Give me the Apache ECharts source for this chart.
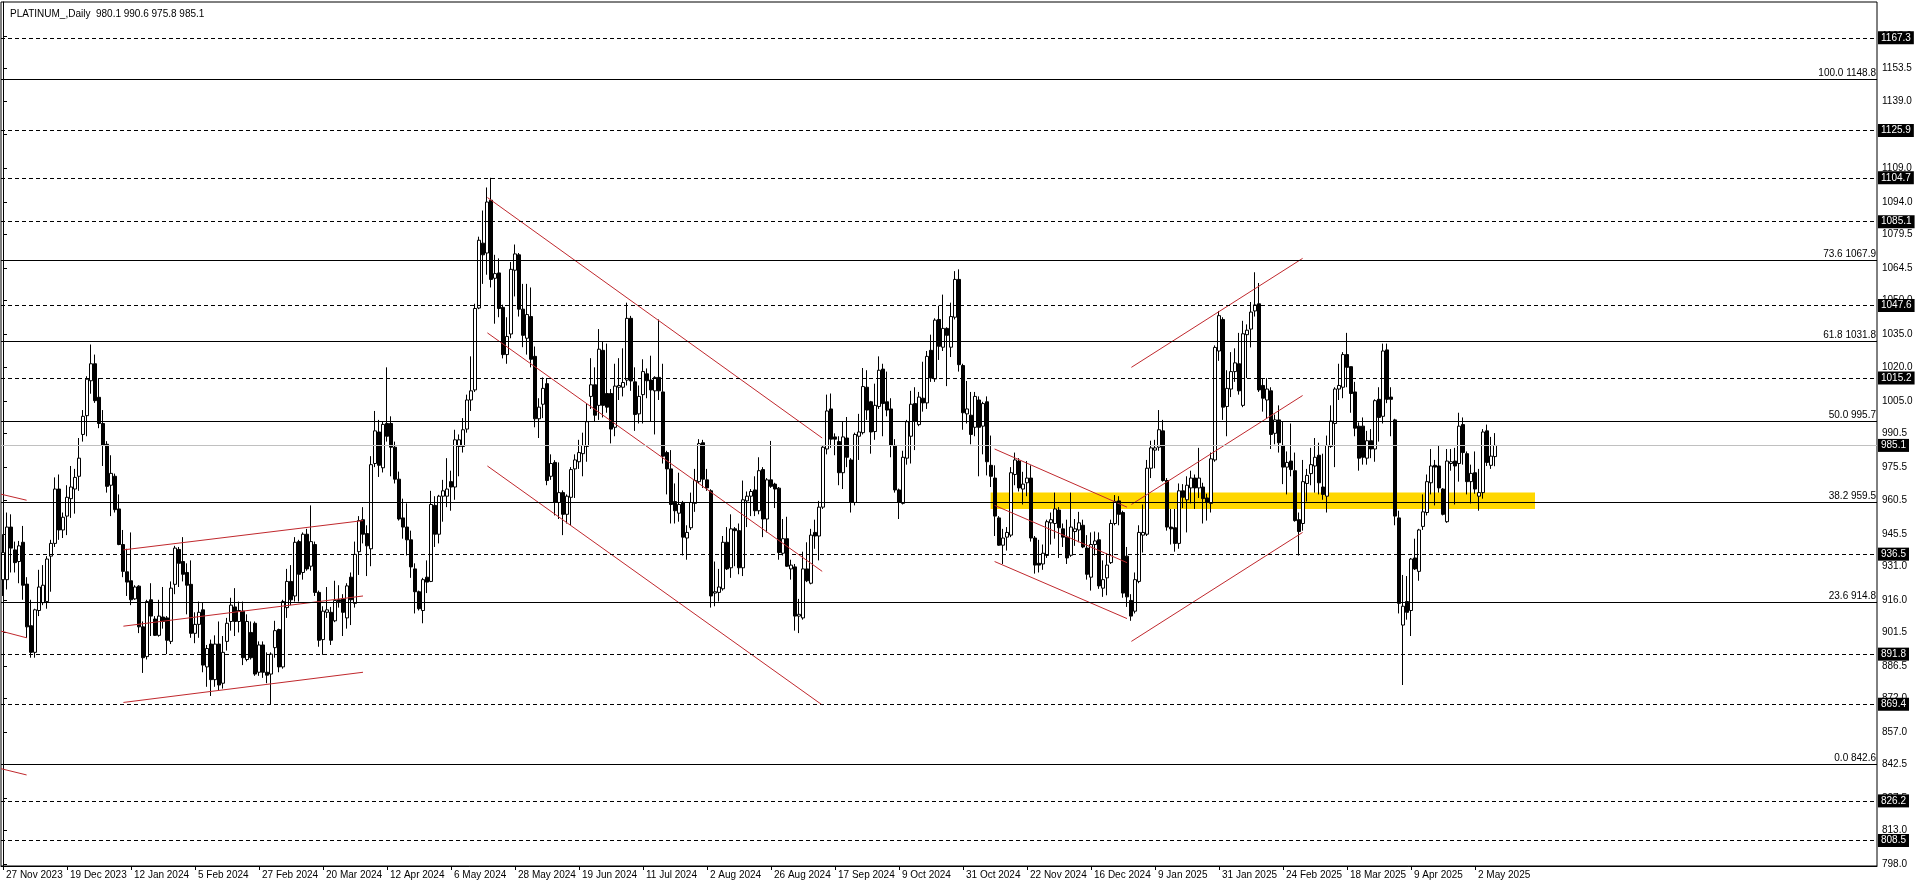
<!DOCTYPE html>
<html><head><meta charset="utf-8">
<script src="https://cdn.jsdelivr.net/npm/echarts@6/dist/echarts.min.js"></script>
<style>html,body{margin:0;padding:0;background:#fff}#c{width:1916px;height:888px}</style>
</head><body><div id="c"></div>
<script>
// ---------- DATA ----------
const headerText = 'PLATINUM_,Daily  980.1 990.6 975.8 985.1';
const holidays = ['2023-12-25','2024-01-01','2024-03-29','2024-12-25','2025-01-01','2025-04-18'];
const totalSlots = 469; // bars incl. empty space on the right
const opens = [
925.1,925.1,948.6,938.4,933.2,941.8,923.1,904.5,892.6,911.3,914.8,915.3,935.6,941.3,965.6,947.3,953.5,961.3,965.6,971.3,
990.0,998.4,1014.0,1021.6,1006.6,994.9,985.6,967.3,971.3,956.7,940.8,928.6,924.6,916.5,922.2,904.0,890.7,916.1,907.5,900.2,
908.4,908.0,897.5,923.0,938.6,933.2,928.3,923.0,901.1,905.1,911.6,886.1,896.3,880.4,896.3,878.8,897.5,906.4,912.9,906.4,
911.0,889.4,
901.5,905.6,883.7,895.9,883.7,882.9,894.7,902.8,886.1,912.6,924.3,917.8,942.1,928.3,945.4,931.1,940.8,919.4,898.3,910.5,
910.5,906.7,916.1,916.5,908.0,926.2,914.5,937.6,951.9,945.7,938.9,977.0,991.1,975.1,994.9,994.9,984.3,970.0,952.7,948.6,
942.9,929.9,919.7,911.3,926.2,924.3,958.3,945.4,962.4,962.4,968.9,966.5,984.6,984.6,992.4,1005.4,1009.9,1046.5,1075.5,1071.1,
1094.7,1059.8,
1062.2,1046.8,1025.7,1034.9,1063.4,1070.3,1046.0,1033.0,1042.7,1024.9,997.0,1003.5,1012.7,971.3,977.5,959.6,964.0,954.3,961.9,974.6,
977.8,981.4,984.6,1007.0,1012.2,1003.0,1027.6,1008.3,1008.3,993.2,1011.1,1011.1,1014.3,1041.9,1013.5,999.2,1007.8,1017.1,1014.3,1009.5,
1015.5,1009.0,981.9,974.6,960.0,954.8,959.6,943.7,948.3,959.2,968.9,986.3,969.7,964.8,919.1,919.4,921.0,941.8,930.4,947.8,
947.0,930.4,
960.3,962.4,965.2,955.9,974.3,952.2,969.7,967.8,966.0,936.9,943.4,929.9,930.8,908.8,908.0,929.9,923.5,946.2,944.6,957.5,
983.5,1001.4,988.9,986.8,972.9,988.4,978.6,959.6,989.2,990.8,1011.1,1004.6,991.3,1002.5,1019.2,1004.6,1001.4,985.1,965.2,959.2,
979.4,989.2,1003.8,994.4,1006.2,1004.1,1027.6,1014.8,1041.4,1029.0,1037.4,1029.0,1042.4,1059.3,1020.8,999.2,998.6,993.2,1005.4,993.7,
1004.6,976.2,
970.5,952.7,940.5,944.1,945.0,972.1,978.1,965.6,968.4,970.5,943.7,932.4,932.1,935.9,950.5,950.2,956.2,947.8,944.1,936.0,
946.6,947.3,949.4,939.2,926.2,940.8,942.9,921.3,925.9,932.7,950.2,960.3,955.1,935.6,915.8,911.0,924.3,945.0,945.4,974.9,
983.0,984.3,991.6,969.4,948.6,948.3,941.3,964.8,960.8,966.1,970.5,966.1,966.5,961.6,959.2,978.6,1027.3,1041.4,1002.5,1010.3,
1018.1,1021.6,
1003.0,1034.6,1037.1,1045.2,1048.4,1011.9,1005.4,1009.5,990.5,996.5,985.1,975.4,978.1,973.8,951.9,950.2,968.1,972.5,975.9,980.7,
966.5,962.4,984.6,994.9,1010.3,1011.1,1025.7,1020.3,1009.0,993.7,993.7,979.4,987.2,983.5,1005.7,998.1,1027.8,1006.7,996.5,952.7,
904.8,915.3,911.3,934.8,928.8,948.9,955.1,968.4,976.2,975.9,965.6,951.0,977.0,978.1,977.0,994.4,981.4,968.9,972.9,962.4,
964.0,991.6,976.2,980.1];
const closes = [
937.2,948.6,939.2,932.7,940.2,922.6,904.0,892.6,911.6,921.8,922.6,934.3,941.3,965.6,947.3,953.0,961.9,966.5,970.8,979.4,
998.1,1014.7,1021.6,1005.1,994.9,985.1,966.8,972.6,956.4,940.8,928.8,924.0,916.1,921.8,904.0,890.2,915.3,908.8,900.2,908.8,
906.4,898.0,921.3,939.2,932.4,927.5,922.6,901.1,905.1,910.5,886.9,894.3,880.4,896.3,878.0,892.6,905.6,913.7,906.4,911.3,
890.2,906.4,
890.2,882.9,895.9,883.7,882.4,891.8,902.3,886.1,915.3,924.3,916.1,941.8,927.5,945.4,929.9,942.1,919.4,898.0,911.0,911.6,
898.0,915.8,915.3,910.5,922.3,916.1,936.4,951.5,945.4,940.2,976.5,991.6,976.2,994.5,989.2,984.3,970.0,952.2,948.6,942.9,
930.8,919.7,912.1,925.1,924.0,958.7,945.4,962.4,964.8,965.6,966.5,987.6,987.6,992.1,1005.4,1009.5,1046.3,1076.8,1070.3,1093.9,
1059.3,1061.9,
1046.3,1025.7,1033.8,1063.8,1070.7,1046.0,1034.3,1043.6,1023.6,997.0,1002.2,1010.6,969.4,977.0,959.6,964.0,954.3,962.4,974.3,978.6,
981.9,985.1,995.7,1012.2,998.6,1028.1,1003.0,1002.2,992.4,1011.6,1011.9,1013.2,1041.9,1013.9,998.9,1007.0,1018.1,1014.0,1009.9,1015.5,
1009.5,980.3,974.6,958.7,955.9,958.7,944.1,946.2,959.6,969.4,985.9,970.0,966.1,917.8,919.7,921.8,941.8,929.9,947.8,947.0,
930.4,960.8,
962.4,964.5,955.9,973.8,952.2,969.7,966.8,965.6,937.2,943.4,931.1,931.6,908.8,909.6,929.9,924.6,945.0,944.6,957.5,984.3,
1000.5,987.9,987.9,972.9,988.9,979.8,959.6,990.0,991.1,1011.4,1000.9,991.1,1003.0,1018.7,1003.8,1000.9,985.1,965.2,959.6,979.8,
995.7,1003.5,996.0,1006.7,1004.1,1024.9,1015.2,1041.1,1029.4,1037.4,1034.3,1042.7,1059.3,1021.2,999.7,1001.4,990.0,1007.0,993.2,1003.8,
977.8,971.3,
953.5,940.5,943.7,946.2,972.9,978.6,966.1,967.8,970.5,943.7,931.6,931.6,936.9,951.0,951.9,956.7,948.3,944.1,934.8,948.6,
947.8,950.5,939.7,927.5,940.8,942.4,922.3,925.1,931.6,950.2,960.0,954.3,919.1,917.4,908.8,925.1,946.2,946.2,974.9,984.0,
984.0,992.1,969.4,948.6,947.8,941.3,964.8,961.9,967.3,970.5,966.1,970.5,961.3,959.6,979.1,1028.9,1043.1,1002.2,1010.6,1018.1,
1022.0,1009.5,
1035.0,1036.6,1044.7,1047.9,1009.9,1006.2,1010.3,990.0,996.5,986.3,975.4,977.5,974.3,951.5,946.6,968.9,971.7,976.5,979.8,968.4,
963.2,985.1,996.0,1010.3,1011.9,1025.7,1020.0,1008.3,992.8,979.4,979.8,987.2,983.5,1005.1,997.6,1027.3,1005.7,1005.7,953.5,914.5,
913.2,910.5,934.3,929.9,947.3,955.4,968.9,975.9,975.4,966.1,954.3,978.1,977.8,975.9,993.7,981.9,968.9,972.6,965.6,964.0,
991.1,977.5,980.3,985.1];
const lows = [
917.8,920.7,928.3,928.3,923.5,916.1,899.1,890.2,890.2,908.8,913.7,912.1,919.7,939.7,942.9,943.7,945.0,952.7,954.6,964.8,
986.8,989.2,1008.2,1004.1,992.8,975.9,964.0,953.5,955.1,940.5,926.2,917.8,913.7,916.1,901.2,883.4,889.4,899.9,899.9,899.6,
903.2,891.8,896.3,918.6,921.8,924.3,909.6,899.1,896.7,899.1,883.7,877.2,873.1,877.2,875.6,876.4,893.4,902.3,899.9,901.5,
886.9,888.6,
889.4,882.1,882.1,881.2,878.8,869.4,890.2,883.7,885.3,908.0,913.7,915.3,915.3,925.1,929.1,929.1,917.8,895.1,891.5,908.0,
895.9,906.1,912.6,899.9,903.2,904.8,912.6,927.2,941.3,926.7,931.1,975.4,971.0,973.0,986.8,971.3,968.1,951.5,943.4,935.9,
925.9,910.0,911.3,905.6,919.1,924.0,939.7,941.3,951.0,957.5,955.9,960.8,971.3,981.9,990.8,1000.5,1009.0,1046.0,1057.3,1061.4,
1055.7,1039.5,
1042.4,1024.0,1021.6,1033.0,1051.7,1042.7,1029.0,1025.7,1020.0,993.2,988.4,997.3,967.3,969.7,953.8,952.2,945.0,950.2,949.4,961.6,
974.6,971.3,977.8,1001.4,995.7,996.5,997.6,999.7,986.0,989.2,1005.4,1007.0,1011.9,1009.5,991.6,994.9,994.9,1006.2,996.0,990.0,
1005.4,977.0,963.2,950.2,950.2,951.0,935.9,934.0,947.3,955.4,968.1,966.1,964.8,912.6,913.2,915.3,920.2,929.4,925.9,931.1,
927.5,926.7,
948.6,953.5,953.5,954.3,944.1,946.2,966.1,957.1,934.0,935.9,930.8,925.1,902.3,901.2,907.2,924.0,923.0,938.9,933.7,956.7,
981.1,984.0,980.7,967.3,965.6,975.4,955.1,958.3,978.6,990.0,996.5,981.4,987.6,1001.4,989.2,998.1,979.8,964.0,952.2,958.7,
976.5,977.0,983.0,993.7,1000.2,1001.4,1013.5,1013.5,1023.3,1027.3,1011.6,1024.6,1041.4,1018.1,992.1,994.9,985.6,989.2,971.3,981.1,
971.7,966.5,
944.6,940.2,932.1,938.1,944.1,967.3,964.5,958.7,962.4,942.1,927.8,928.3,929.5,934.8,940.8,943.4,934.8,939.7,932.1,935.3,
940.2,941.8,939.2,925.1,920.2,935.9,921.0,917.4,918.1,932.1,949.4,949.4,917.0,912.9,906.7,910.0,923.5,937.2,944.6,970.5,
974.9,982.7,968.9,947.0,940.8,937.6,938.9,957.1,946.2,959.2,956.7,961.6,950.2,951.5,955.1,977.8,1022.9,996.5,989.2,1006.7,
1013.5,1007.8,
1002.2,1015.2,1028.9,1042.7,1009.0,1000.2,997.3,983.5,985.6,981.9,967.8,963.2,971.3,951.0,935.9,947.0,960.0,967.3,964.0,963.2,
960.8,955.1,984.0,975.4,1005.4,1006.2,1011.1,999.7,989.2,973.8,976.5,976.5,979.4,977.8,986.8,994.9,1004.0,989.2,949.4,910.0,
878.0,907.2,899.9,929.4,924.6,947.3,953.8,963.2,958.3,964.0,953.8,950.5,973.8,958.7,968.9,976.5,963.2,959.2,963.5,955.9,
961.3,975.9,974.6,975.8];
const highs = [
945.4,955.1,954.3,942.1,942.4,949.1,926.2,916.1,912.1,929.5,931.6,935.6,942.9,970.8,972.1,955.1,967.3,975.9,974.6,988.4,
1000.9,1016.0,1030.2,1025.7,1015.2,1000.9,987.0,980.7,972.5,963.2,947.3,938.9,946.2,922.6,922.6,906.4,916.1,923.5,908.8,916.1,
921.8,908.8,924.3,940.2,939.7,944.1,932.4,933.7,910.5,915.3,914.8,895.9,898.3,900.2,906.4,899.9,908.0,917.0,921.3,915.3,
915.3,909.6,
906.4,906.4,897.5,897.5,892.6,892.6,906.7,903.2,916.1,929.9,931.6,944.1,942.9,946.2,947.8,958.3,942.1,920.2,913.2,921.8,
912.9,924.6,922.6,918.6,923.5,928.3,942.1,953.5,957.5,949.4,980.3,1000.5,996.5,995.7,1020.0,998.1,986.8,973.4,961.3,959.2,
947.0,932.4,920.2,925.9,933.7,964.8,962.4,963.0,969.7,979.4,973.8,992.1,990.0,997.3,1007.8,1024.9,1048.4,1078.4,1090.1,1100.4,
1104.7,1070.3,
1068.7,1048.0,1042.4,1067.1,1074.9,1071.1,1057.3,1057.3,1055.7,1029.3,1006.2,1015.5,1015.2,981.1,978.5,977.5,965.0,963.2,975.4,981.1,
987.6,990.8,1003.8,1024.1,1020.0,1037.1,1031.4,1030.6,1010.3,1021.6,1024.1,1028.5,1048.9,1043.0,1020.0,1011.9,1023.6,1019.5,1025.2,1016.0,
1041.4,1021.6,982.7,983.0,968.1,972.9,960.3,949.4,964.0,974.6,987.9,987.6,974.6,965.5,933.2,929.9,944.6,948.6,954.3,948.6,
950.2,969.4,
964.5,965.6,971.3,979.8,975.4,970.5,987.1,968.4,966.5,952.2,953.2,934.0,932.1,916.5,937.6,941.8,947.8,951.9,960.3,985.1,
1007.8,1008.3,990.5,989.2,995.7,997.8,979.4,990.8,999.2,1019.7,1018.7,1005.0,1012.7,1024.9,1021.6,1018.1,1006.2,987.9,965.8,982.7,
996.5,1009.5,1011.1,1009.0,1022.5,1027.3,1034.6,1041.9,1047.6,1052.5,1037.9,1048.9,1063.0,1063.8,1021.6,1013.9,1009.0,1009.0,1007.0,1004.6,
1007.0,989.5,
976.2,953.5,947.8,948.6,975.4,981.9,979.4,973.3,978.1,976.2,944.6,942.9,940.8,951.9,955.1,964.0,957.5,950.2,951.9,964.0,
952.2,955.4,951.9,945.0,946.2,946.6,946.2,933.7,936.9,951.9,962.9,962.4,955.9,939.7,918.6,928.3,949.4,958.7,978.6,987.2,
987.6,1000.9,996.5,970.5,956.7,956.7,968.1,967.8,971.3,973.8,972.1,984.0,968.4,963.5,981.9,1029.8,1045.2,1042.4,1018.7,1026.8,
1028.5,1035.4,
1040.8,1039.2,1049.2,1062.5,1057.7,1015.2,1015.2,1011.1,998.9,1003.0,995.7,982.4,994.9,981.9,955.1,978.6,974.6,984.0,988.4,986.3,
981.4,989.5,1003.0,1011.1,1021.6,1026.8,1035.4,1020.3,1013.5,995.4,997.6,991.6,992.4,1005.7,1011.1,1030.6,1030.6,1011.1,997.0,955.9,
927.2,926.7,934.8,943.4,947.8,963.2,972.1,983.5,978.6,985.1,966.0,983.5,983.5,984.0,999.7,997.6,982.4,976.5,982.4,974.6,
992.4,994.4,988.9,990.6];
// right-axis tick labels
const yTicks = [798.0,813.0,827.5,842.5,857.0,872.0,886.5,901.5,916.0,931.0,945.5,960.5,975.5,990.5,1005.0,1020.0,1035.0,1050.0,1064.5,1079.5,1094.0,1109.0,1124.0,1139.0,1153.5,1168.0];
const yMin = 797.1, yMax = 1183.3;
// dashed horizontal levels (black price boxes)
const levelPrices = [1167.3,1125.9,1104.7,1085.1,1047.6,1015.2,936.5,891.8,869.4,826.2,808.5];
// Fibonacci levels
const fibPct = ['100.0','73.6','61.8','50.0','38.2','23.6','0.0'];
const fibPrices = [1148.8,1067.9,1031.8,995.7,959.5,914.8,842.6];
const bidPrice = 985.1;
// yellow zone: [barStart, priceLow, barEnd, priceHigh]
const zone = [246.9, 956.7, 383.0, 964.0];
// trend lines: [barStart, priceStart, barEnd, priceEnd]
const trendLines = [
 [-0.5,963.3,5.9,960.6],[-0.5,902.1,5.9,899.1],[-0.5,840.6,5.9,837.8],
 [30.1,938.4,90.0,951.5],[30.1,904.3,90.0,917.8],[30.1,870.2,90.0,883.7],
 [121.1,1095.9,204.8,988.4],[121.1,1035.4,204.8,928.8],[121.1,975.9,204.8,869.1],
 [247.9,983.5,281.0,957.5],[247.9,958.3,281.0,932.7],[247.9,933.2,281.0,907.7],
 [282.1,1020.0,324.9,1068.7],[282.1,958.7,324.9,1007.4],[282.1,897.5,324.9,946.2]
];
// ---------- BUILD ----------
const MONTHS=['Jan','Feb','Mar','Apr','May','Jun','Jul','Aug','Sep','Oct','Nov','Dec'];
function buildDates(n){
  const out=[]; const d=new Date(Date.UTC(2023,10,27));
  while(out.length<n){
    const wd=d.getUTCDay(); const iso=d.toISOString().slice(0,10);
    if(wd!==0&&wd!==6&&holidays.indexOf(iso)<0) out.push(iso);
    d.setUTCDate(d.getUTCDate()+1);
  }
  return out;
}
const dates = buildDates(totalSlots);
const nBars = opens.length;
function fmtDate(iso){const p=iso.split('-');return (+p[2])+' '+MONTHS[+p[1]-1]+' '+p[0];}
const showIdx = (i)=> i%16===0 && i<nBars;
const candleData = opens.map((o,i)=>[o,closes[i],lows[i],highs[i]]);
const FONT = "'Liberation Sans', Arial, sans-serif";

const boxLabel = (p)=>({show:true,position:'end',distance:1,formatter:p.toFixed(1),backgroundColor:'#000',color:'#fff',
  padding:[2,3,1,3],fontSize:10,fontFamily:FONT});
const markLineData = [];
levelPrices.forEach(p=>markLineData.push({yAxis:p,lineStyle:{type:[4,3],color:'#000',width:1},label:boxLabel(p)}));
fibPrices.forEach((p,i)=>markLineData.push({yAxis:p,lineStyle:{type:'solid',color:'#000',width:1},
  label:{show:true,position:'insideEndTop',distance:[1,1],formatter:fibPct[i]+' '+p.toFixed(1),color:'#000',fontSize:10,fontFamily:FONT}}));
markLineData.push({yAxis:bidPrice,lineStyle:{type:'solid',color:'#c0c0c0',width:1},label:boxLabel(bidPrice)});

const series = [
  {type:'line',xAxisIndex:1,yAxisIndex:0,data:[],z:1,silent:true,
   markArea:{silent:true,itemStyle:{color:'#FFD700',opacity:1},data:[[{coord:[zone[0],zone[3]]},{coord:[zone[2],zone[1]]}]]}},
  {type:'candlestick',xAxisIndex:0,yAxisIndex:0,data:candleData,barWidth:3,z:3,
   itemStyle:{color:'#ffffff',color0:'#000000',borderColor:'#000000',borderColor0:'#000000',borderWidth:1}},
  {type:'line',xAxisIndex:1,yAxisIndex:0,data:[],z:10,silent:true,
   markLine:{silent:true,symbol:['none','none'],animation:false,data:markLineData}}
];
trendLines.forEach(t=>series.push({type:'line',xAxisIndex:1,yAxisIndex:0,z:4,silent:true,symbol:'none',
  data:[[t[0],t[1]],[t[2],t[3]]],lineStyle:{color:'#c0282d',width:1}}));

const chart = echarts.init(document.getElementById('c'),null,{renderer:'canvas'});
chart.setOption({
  animation:false,
  backgroundColor:'#ffffff',
  title:{text:headerText,left:5,top:4,textStyle:{fontSize:10,fontWeight:'normal',color:'#000',fontFamily:FONT}},
  grid:{left:1,right:39,top:2,bottom:22,show:true,borderColor:'#000',borderWidth:1},
  xAxis:[
    {type:'category',data:dates,boundaryGap:true,
     axisLine:{show:true,lineStyle:{color:'#000',width:1}},
     axisTick:{show:true,interval:(i)=>showIdx(i),alignWithLabel:true,length:4,lineStyle:{color:'#000'}},
     axisLabel:{interval:(i)=>showIdx(i),formatter:(v)=>fmtDate(v),align:'left',margin:4,padding:[0,0,0,3],color:'#000',fontSize:10,fontFamily:FONT},
     splitLine:{show:false}},
    {type:'value',min:-0.5,max:totalSlots-0.5,show:false}
  ],
  yAxis:[{type:'value',position:'right',min:yMin,max:yMax,scale:true,
    axisLine:{show:true,lineStyle:{color:'#000',width:1}},
    axisTick:{show:true,customValues:yTicks,length:4,lineStyle:{color:'#000'}},
    axisLabel:{customValues:yTicks,formatter:(v)=>v.toFixed(1),margin:5,color:'#000',fontSize:10,fontFamily:FONT},
    splitLine:{show:false}}],
  series:series
});
</script></body></html>
